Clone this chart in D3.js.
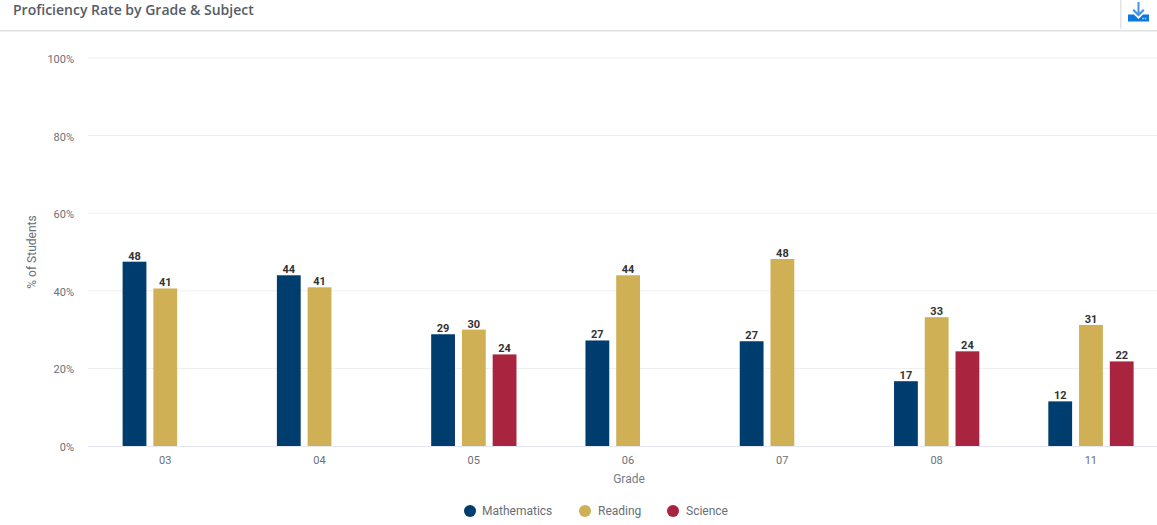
<!DOCTYPE html>
<html><head><meta charset="utf-8">
<script src="https://cdn.jsdelivr.net/npm/d3@7"></script>
<style>html,body{margin:0;padding:0;background:#fff;overflow:hidden}svg{display:block}</style>
</head><body><svg id="c" width="1157" height="525"></svg>
<script>
const grades=["03","04","05","06","07","08","11"];
const subjects=["Mathematics","Reading","Science"];
const mathematics=[47.5,44,28.8,27.2,27,16.7,11.5];
const reading=[40.6,40.9,30,44,48.2,33.2,31.2];
const science=[null,null,23.6,null,null,24.4,21.8];
const colors=["#003d6f","#cfb055","#a8243f"];
const yTicks=[0,20,40,60,80,100];
const series=[mathematics,reading,science];
const svg=d3.select("#c");
const x=d3.scaleBand().domain(grades).range([88,1168]);
const x1=d3.scaleBand().domain(subjects).range([34.6,119.9]).paddingInner(0.2258);
const y=d3.scaleLinear().domain([0,100]).range([446,58]);
const sans="Roboto, sans-serif";

// header
svg.append("text").attr("x",13).attr("y",15).attr("font-family","'Open Sans', sans-serif").attr("font-weight",600).attr("font-size",14).attr("fill","#555c66").text("Proficiency Rate by Grade & Subject");
svg.append("rect").attr("x",0).attr("y",30).attr("width",1157).attr("height",1.5).attr("fill","#dfe3e3");
svg.append("rect").attr("x",1120).attr("y",0).attr("width",1.5).attr("height",29).attr("fill","#e2e5e5");
const ic=svg.append("g").attr("fill","#0a78dc");
ic.append("path").attr("d","M1128 14.5 H1134 L1138.5 19 L1143 14.5 H1149 V21.5 H1128 Z");
ic.append("path").attr("d","M1137.5 2 H1139.5 V12.5 L1143 9 L1144.5 10.5 L1138.5 16.5 L1132.5 10.5 L1134 9 L1137.5 12.5 Z").attr("fill","#3f95e6");
ic.append("circle").attr("cx",1143).attr("cy",18.5).attr("r",0.9).attr("fill","#9cc9f2");
ic.append("circle").attr("cx",1145.5).attr("cy",18.5).attr("r",0.9).attr("fill","#9cc9f2");

// grid
svg.append("g").selectAll("line").data(yTicks.filter(d=>d>0)).join("line")
 .attr("x1",88).attr("x2",1157).attr("y1",d=>y(d)).attr("y2",d=>y(d)).attr("stroke","#eeeeee").attr("stroke-width",1);
svg.append("line").attr("x1",88).attr("x2",1157).attr("y1",446.5).attr("y2",446.5).attr("stroke","#e4e6f4").attr("stroke-width",1.2);

// axes
svg.append("g").selectAll("text").data(yTicks).join("text").attr("x",74).attr("y",d=>y(d)+5).attr("text-anchor","end")
 .attr("font-family",sans).attr("font-size",11).attr("fill","#6b7078").text(d=>d+"%");
svg.append("g").selectAll("text").data(grades).join("text").attr("x",d=>x(d)+x.bandwidth()/2).attr("y",464).attr("text-anchor","middle")
 .attr("font-family",sans).attr("font-size",11).attr("fill","#6b7078").text(d=>d);
svg.append("text").attr("x",629).attr("y",483).attr("text-anchor","middle").attr("font-family",sans).attr("font-size",12).attr("fill","#757d85").text("Grade");
svg.append("text").attr("transform","translate(36,252) rotate(-90)").attr("text-anchor","middle").attr("font-family",sans).attr("font-size",12).attr("fill","#666f78").text("% of Students");

// bars
series.forEach((vals,si)=>{
 const g=svg.append("g");
 const pts=grades.map((gr,i)=>({gr,v:vals[i]})).filter(d=>d.v!=null);
 g.selectAll("rect").data(pts).join("rect")
  .attr("x",d=>x(d.gr)+x1(subjects[si])).attr("width",x1.bandwidth())
  .attr("y",d=>y(d.v)).attr("height",d=>y(0)-y(d.v)).attr("fill",colors[si]);
 g.selectAll("text").data(pts).join("text")
  .attr("x",d=>x(d.gr)+x1(subjects[si])+x1.bandwidth()/2).attr("y",d=>y(d.v)-2)
  .attr("text-anchor","middle").attr("font-family",sans).attr("font-weight",700).attr("font-size",11).attr("fill","#333333")
  .text(d=>d3.format(".0f")(d.v));
});

// legend
const lx=[470,585,673];
const lt=[482,598,686];
const lg=svg.append("g");
lg.selectAll("circle").data(subjects).join("circle").attr("cx",(d,i)=>lx[i]).attr("cy",511).attr("r",6).attr("fill",(d,i)=>colors[i]);
lg.selectAll("text").data(subjects).join("text").attr("x",(d,i)=>lt[i]).attr("y",515).attr("font-family",sans).attr("font-size",12).attr("fill","#666f78").text(d=>d);
</script></body></html>
